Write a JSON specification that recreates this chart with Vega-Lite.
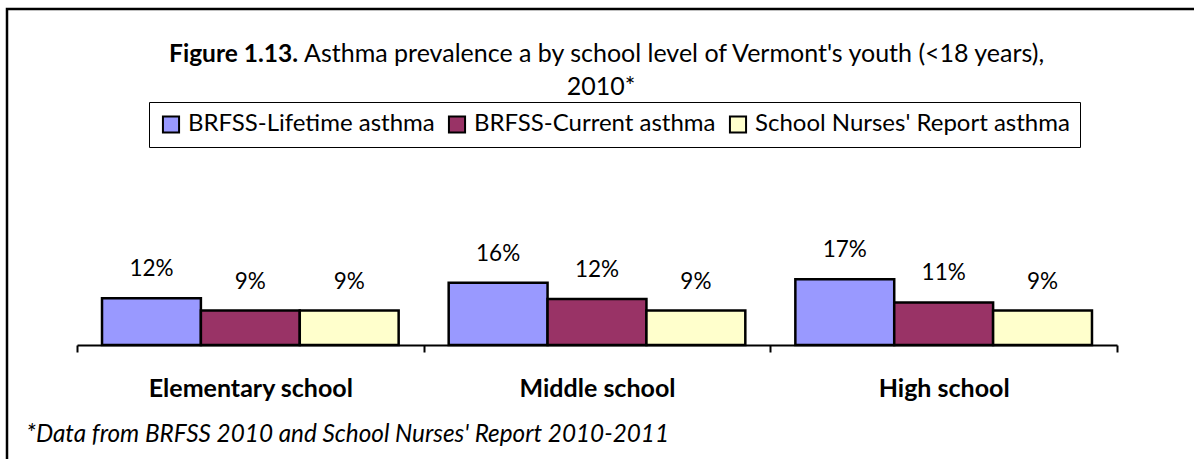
{
  "$schema": "https://vega.github.io/schema/vega-lite/v6.json",
  "width": 1192,
  "height": 470,
  "autosize": {"type": "none"},
  "padding": {"left": 7, "top": 9, "right": 0, "bottom": 0},
  "background": "white",
  "config": {
    "view": {"stroke": "black", "strokeWidth": 2.5},
    "font": "Lato",
    "text": {"font": "Lato", "color": "black"}
  },
  "datasets": {
    "prev": [
      {"school": "Elementary school", "measure": "BRFSS-Lifetime asthma", "value": 0.121},
      {"school": "Elementary school", "measure": "BRFSS-Current asthma", "value": 0.089},
      {"school": "Elementary school", "measure": "School Nurses' Report asthma", "value": 0.089},
      {"school": "Middle school", "measure": "BRFSS-Lifetime asthma", "value": 0.161},
      {"school": "Middle school", "measure": "BRFSS-Current asthma", "value": 0.119},
      {"school": "Middle school", "measure": "School Nurses' Report asthma", "value": 0.089},
      {"school": "High school", "measure": "BRFSS-Lifetime asthma", "value": 0.17},
      {"school": "High school", "measure": "BRFSS-Current asthma", "value": 0.11},
      {"school": "High school", "measure": "School Nurses' Report asthma", "value": 0.089}
    ]
  },
  "layer": [
    {
      "data": {"name": "prev"},
      "mark": {"type": "bar", "stroke": "black", "strokeWidth": 2.5},
      "encoding": {
        "x": {
          "field": "school", "type": "nominal",
          "scale": {"domain": ["Elementary school", "Middle school", "High school"], "range": [70, 1110], "paddingInner": 0, "paddingOuter": 0},
          "axis": {
            "title": null, "offset": -134, "grid": false, "labelAngle": 0,
            "domainColor": "black", "domainWidth": 2,
            "tickColor": "black", "tickWidth": 2, "tickSize": 7, "tickBand": "extent",
            "labelFont": "Lato", "labelFontWeight": "bold", "labelFontSize": 25, "labelColor": "black", "labelPadding": 24, "labelLimit": 400,
            "zindex": 1
          }
        },
        "xOffset": {
          "field": "measure", "type": "nominal",
          "scale": {"domain": ["BRFSS-Lifetime asthma", "BRFSS-Current asthma", "School Nurses' Report asthma"], "paddingInner": 0, "paddingOuter": 0.253}
        },
        "y": {
          "field": "value", "type": "quantitative",
          "scale": {"domain": [-0.3463, 0.8682], "nice": false, "zero": false},
          "axis": null
        },
        "y2": {"datum": 0},
        "color": {
          "field": "measure", "type": "nominal",
          "scale": {"domain": ["BRFSS-Lifetime asthma", "BRFSS-Current asthma", "School Nurses' Report asthma"], "range": ["#9999FF", "#993366", "#FFFFCC"]},
          "legend": {
            "title": null, "orient": "none", "legendX": 142, "legendY": 93, "direction": "horizontal",
            "strokeColor": "black", "padding": 10, "fillColor": "white",
            "symbolType": "square", "symbolSize": 260, "symbolStrokeColor": "black", "symbolStrokeWidth": 2, "symbolOpacity": 1,
            "labelFont": "Lato", "labelFontSize": 24, "labelColor": "black", "labelLimit": 500, "labelOffset": 5,
            "columnPadding": 9
          }
        }
      }
    },
    {
      "data": {"name": "prev"},
      "mark": {"type": "text", "baseline": "alphabetic", "dy": -22, "fontSize": 22.5, "font": "Lato", "color": "black"},
      "encoding": {
        "x": {"field": "school", "type": "nominal"},
        "xOffset": {"field": "measure", "type": "nominal"},
        "y": {"field": "value", "type": "quantitative"},
        "text": {"field": "value", "type": "quantitative", "format": ".0%"}
      }
    },
    {
      "data": {"values": [{"t": "Figure 1.13."}]},
      "mark": {"type": "text", "align": "right", "baseline": "alphabetic", "fontWeight": "bold", "fontSize": 24.5, "dx": -299},
      "encoding": {
        "x": {"datum": "Middle school", "type": "nominal"},
        "y": {"datum": 0.732, "type": "quantitative"},
        "text": {"field": "t", "type": "nominal"}
      }
    },
    {
      "data": {"values": [{"t": "Asthma prevalence a by school level of Vermont's youth (<18 years),"}]},
      "mark": {"type": "text", "align": "left", "baseline": "alphabetic", "fontSize": 25, "dx": -293},
      "encoding": {
        "x": {"datum": "Middle school", "type": "nominal"},
        "y": {"datum": 0.732, "type": "quantitative"},
        "text": {"field": "t", "type": "nominal"}
      }
    },
    {
      "data": {"values": [{"t": "2010*"}]},
      "mark": {"type": "text", "align": "center", "baseline": "alphabetic", "fontSize": 25, "dx": 4},
      "encoding": {
        "x": {"datum": "Middle school", "type": "nominal"},
        "y": {"datum": 0.646, "type": "quantitative"},
        "text": {"field": "t", "type": "nominal"}
      }
    },
    {
      "data": {"values": [{"t": "*Data from BRFSS 2010 and School Nurses' Report 2010-2011"}]},
      "mark": {"type": "text", "align": "left", "baseline": "alphabetic", "fontSize": 24.3, "fontStyle": "italic", "dx": -224},
      "encoding": {
        "x": {"datum": "Elementary school", "type": "nominal"},
        "y": {"datum": -0.25, "type": "quantitative"},
        "text": {"field": "t", "type": "nominal"}
      }
    }
  ]
}
